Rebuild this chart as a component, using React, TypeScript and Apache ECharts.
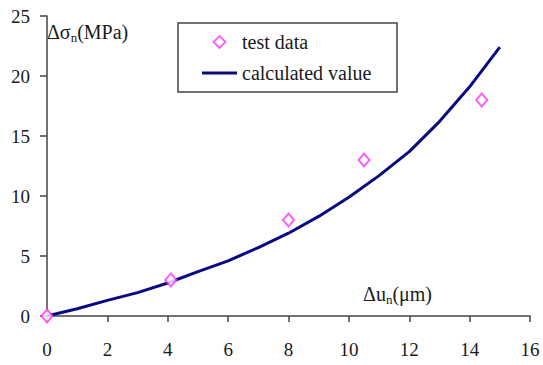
import React, { useEffect, useRef } from "react";
import * as echarts from "echarts";

const testX = [0, 4.1, 8.0, 10.5, 14.4];
const testY = [0, 3.0, 8.0, 13.0, 18.0];
const calcX = [0, 1, 2, 3, 4, 5, 6, 7, 8, 9, 10, 11, 12, 13, 14, 15];
const calcY = [0, 0.6, 1.3, 1.95, 2.75, 3.7, 4.6, 5.7, 6.9, 8.3, 9.9, 11.7, 13.7, 16.2, 19.1, 22.4];
const seriesNames = ["test data", "calculated value"];

const FONT = "Liberation Serif";
const MAGENTA = "#ff33ff";
const NAVY = "#0a0a80";
const TEXT = "#1a1a1a";

const subRich = {
  base: { fontSize: 20, fontFamily: FONT, color: TEXT, lineHeight: 24 },
  sub: { fontSize: 13, fontFamily: FONT, color: TEXT, lineHeight: 13, verticalAlign: "bottom" },
};

export default function App() {
  const ref = useRef<HTMLDivElement>(null);
  useEffect(() => {
    if (!ref.current) return;
    const chart = echarts.init(ref.current, null, { renderer: "svg" });
    const axisLine = { lineStyle: { color: "#444", width: 1.5 } };
    chart.setOption({
      animation: false,
      backgroundColor: "#fff",
      textStyle: { fontFamily: FONT },
      grid: { left: 47, right: 13, top: 16, bottom: 49 },
      xAxis: {
        type: "value",
        min: 0,
        max: 16,
        interval: 2,
        splitLine: { show: false },
        axisLine: { ...axisLine, onZero: false },
        axisTick: { show: true, length: 6, lineStyle: { color: "#444", width: 1.5 } },
        axisLabel: { margin: 24, color: TEXT, fontSize: 19, fontFamily: FONT },
        name: "{base|Δu}{sub|n}{base|(μm)}",
        nameLocation: "end",
        nameGap: -98,
        nameTextStyle: {
          align: "right",
          verticalAlign: "bottom",
          padding: [0, 0, 10, 0],
          color: TEXT,
          fontSize: 20,
          fontFamily: FONT,
          rich: subRich,
        },
      },
      yAxis: {
        type: "value",
        min: 0,
        max: 25,
        interval: 5,
        splitLine: { show: false },
        axisLine: { show: true, ...axisLine },
        axisTick: { show: true, length: 7, lineStyle: { color: "#444", width: 1.5 } },
        axisLabel: { margin: 17, color: TEXT, fontSize: 19, fontFamily: FONT },
        name: "{base|Δσ}{sub|n}{base|(MPa)}",
        nameLocation: "end",
        nameGap: -16,
        nameTextStyle: {
          align: "left",
          verticalAlign: "middle",
          color: TEXT,
          fontSize: 20,
          fontFamily: FONT,
          rich: subRich,
        },
      },
      legend: {
        orient: "vertical",
        left: 197,
        top: 27,
        itemWidth: 35,
        itemHeight: 12,
        itemGap: 11,
        symbolKeepAspect: true,
        textStyle: { fontSize: 20, fontFamily: FONT, color: TEXT },
        data: [
          {
            name: seriesNames[0],
            icon: "path://M0,6 L6,0 L12,6 L6,12 Z",
            itemStyle: { color: "#ffffff", borderColor: MAGENTA, borderWidth: 1.8 },
          },
          {
            name: seriesNames[1],
            icon: "path://M0,0 L35,0 L35,3 L0,3 Z",
            itemStyle: { color: NAVY, borderWidth: 0 },
          },
        ],
      },
      graphic: [
        {
          type: "rect",
          shape: { x: 178, y: 23, width: 219, height: 69 },
          style: { fill: "none", stroke: "#444", lineWidth: 1.5 },
          silent: true,
        },
      ],
      series: [
        {
          name: seriesNames[0],
          type: "scatter",
          symbol: "emptyDiamond",
          symbolSize: [11, 13],
          itemStyle: { color: MAGENTA, borderWidth: 1.8 },
          data: testX.map((x, i) => [x, testY[i]]),
          z: 3,
        },
        {
          name: seriesNames[1],
          type: "line",
          symbol: "none",
          lineStyle: { color: NAVY, width: 3 },
          itemStyle: { color: NAVY },
          data: calcX.map((x, i) => [x, calcY[i]]),
          z: 2,
        },
      ],
    });
    return () => chart.dispose();
  }, []);
  return <div ref={ref} style={{ width: 543, height: 365, position: "absolute", left: 0, top: 0 }} />;
}
